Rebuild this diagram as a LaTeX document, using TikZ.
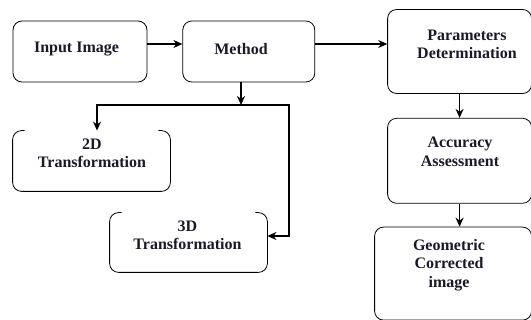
\documentclass[tikz,border=0pt]{standalone}
\usepackage{fontspec}
\setmainfont{Liberation Serif}[BoldFont={Liberation Serif Bold}]
\usetikzlibrary{positioning,arrows.meta}
\definecolor{ink}{RGB}{25,25,40}

\begin{document}
\begin{tikzpicture}[x=1pt, y=-1pt, >={Stealth[length=9pt,width=8pt]},
    shell/.style={rounded corners=9pt, inner sep=0pt, line width=0.8pt},
    box/.style={shell, draw},
    txt/.style={align=center, inner sep=0pt, text=ink, font=\rmfamily\fontsize{16}{18.5}\selectfont\bfseries},
    arr/.style={->, line width=1.6pt}]
    \useasboundingbox (0,0) rectangle (531,320);

    % Boxes
    \node (inp) [box, minimum width=134pt, minimum height=61pt] at (80,51.5) {};
    \node (meth) [box, minimum width=132pt, minimum height=61pt, right=35pt of inp] {};
    \node (par) [box, minimum width=144pt, minimum height=84pt, right=72pt of meth] {};
    \node (acc) [box, minimum width=144pt, minimum height=85pt, below=24pt of par] {};
    \node (geo) [box, minimum width=157pt, minimum height=93pt, below=23pt of acc, xshift=-6.5pt] {};
    \node (b2d) [shell, minimum width=157pt, minimum height=60pt] at (91.5,161) {};
    \node (b3d) [shell, minimum width=157pt, minimum height=59pt] at (188.5,242.5) {};

    % Open-top frames
    \foreach \b in {b2d,b3d}
        \draw[line width=0.8pt, rounded corners=9pt] ([xshift=12pt]\b.north west) -- (\b.north west)
            -- (\b.south west) -- (\b.south east) -- (\b.north east) -- ([xshift=-12pt]\b.north east);

    % Labels
    \node (inpT) [txt] at (76.5,49) {Input Image};
    \node (methT) [txt] at (241,49) {Method};
    \node (parT) [txt] at (467,44.5) {Parameters\\Determination};
    \node (accT) [txt] at (460,152) {Accuracy\\Assessment};
    \node (geoT) [txt] at (449,265) {Geometric\\Corrected\\image};
    \node (t2dT) [txt] at (92,153.5) {2D\\Transformation};
    \node (t3dT) [txt] at (187.5,235.5) {3D\\Transformation};

    % Edges
    \coordinate (fork) at (241,105);
    \coordinate (turn) at (289,105);
    \draw[arr] ([yshift=7.5pt]inp.east) -- ([yshift=7.5pt]meth.west);
    \draw[arr] ([yshift=7.5pt]meth.east) -- ([yshift=7.5pt]meth.east -| par.west);
    \draw[arr] (meth.south -| fork) -- (fork);
    \draw[<->, line width=1.6pt] ([xshift=5.5pt]b2d.north) |- (turn) |- ([yshift=6.5pt]b3d.east);
    \draw[arr] (par) -- (acc);
    \draw[arr] (acc.south) -- (acc.south |- geo.north);
\end{tikzpicture}
\end{document}
